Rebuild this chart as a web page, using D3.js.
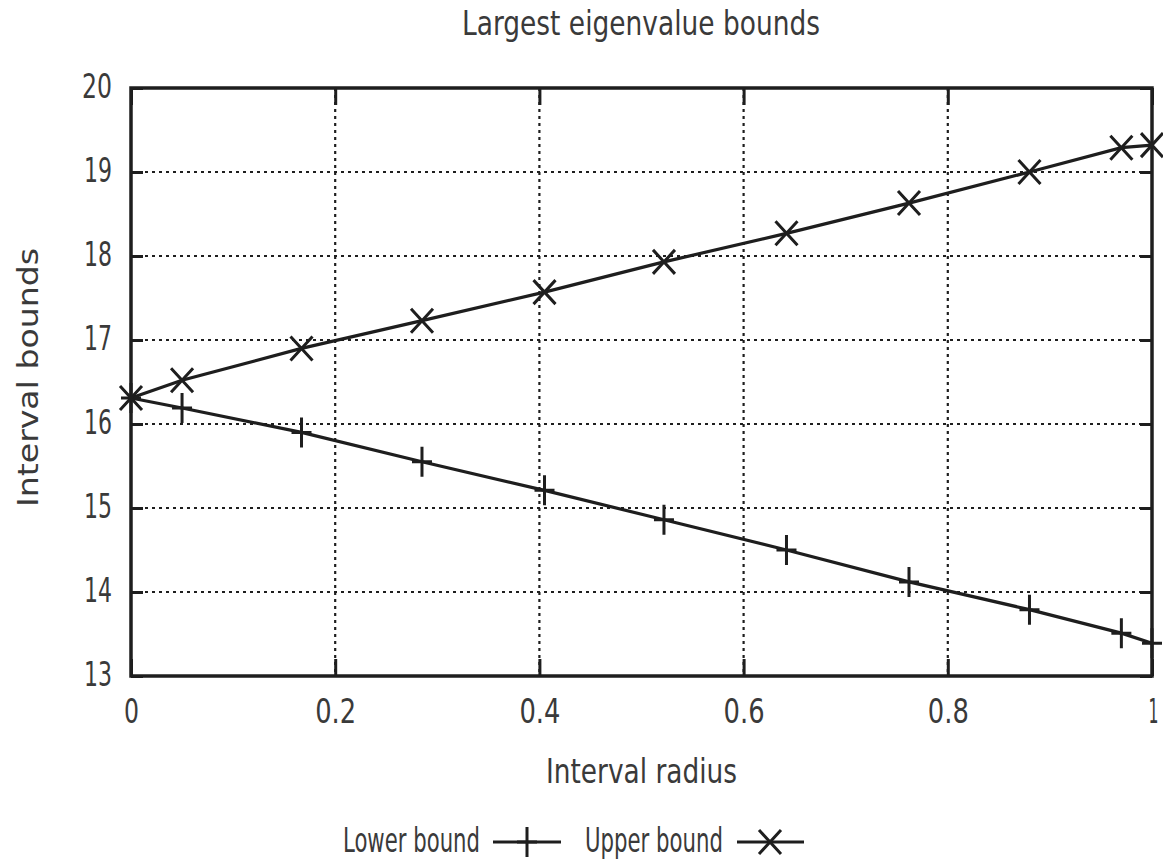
<!DOCTYPE html>
<html><head><meta charset="utf-8">
<script src="https://cdn.jsdelivr.net/npm/d3@7"></script>
<style>body{margin:0;background:#fff}svg text{font-family:"DejaVu Sans Condensed","DejaVu Sans",sans-serif;fill:#3a3a3a}</style>
</head><body><svg id="c" width="1163" height="860"></svg>
<script>
const radius = [0, 0.05, 0.167, 0.285, 0.405, 0.522, 0.642, 0.762, 0.88, 0.97, 1.0];
const lowerBound = [16.31, 16.19, 15.9, 15.55, 15.21, 14.86, 14.5, 14.12, 13.79, 13.51, 13.39];
const upperBound = [16.31, 16.52, 16.9, 17.23, 17.57, 17.93, 18.27, 18.63, 19.0, 19.29, 19.32];
const xTicks = [0, 0.2, 0.4, 0.6, 0.8, 1];
const yTicks = [13, 14, 15, 16, 17, 18, 19, 20];
const title = "Largest eigenvalue bounds";
const xLabel = "Interval radius";
const yLabel = "Interval bounds";
const seriesNames = ["Lower bound", "Upper bound"];

const svg = d3.select("#c");
const L = 131, R = 1152, T = 88, B = 676;
const x = d3.scaleLinear().domain([0, 1]).range([L, R]);
const y = d3.scaleLinear().domain([13, 20]).range([B, T]);
const ink = "#1e1e1e";
const FS = 33;
// width of a label in the narrow reference face
const labelWidth = s => s.split("").reduce((w, ch) => w + (ch === "." ? 11 : ch === "1" ? 13 : 15), 0);

// grid
svg.append("g").selectAll("line").data(xTicks.filter(d => d > 0 && d < 1)).join("line")
  .attr("x1", d => x(d)).attr("x2", d => x(d)).attr("y1", T).attr("y2", B)
  .attr("stroke", ink).attr("stroke-width", 2.2).attr("stroke-dasharray", "3,4");
svg.append("g").selectAll("line").data(yTicks.filter(d => d > 13 && d < 20)).join("line")
  .attr("x1", L).attr("x2", R).attr("y1", d => y(d)).attr("y2", d => y(d))
  .attr("stroke", ink).attr("stroke-width", 2.2).attr("stroke-dasharray", "3,4");

// axes with inward ticks
const fmt = d => d3.format("~g")(d);
const ax = svg.append("g").attr("transform", `translate(0,${B})`)
  .call(d3.axisBottom(x).tickValues(xTicks).tickSizeInner(-17).tickSizeOuter(0).tickPadding(0).tickFormat(fmt));
const axT = svg.append("g").attr("transform", `translate(0,${T})`)
  .call(d3.axisTop(x).tickValues(xTicks).tickSizeInner(-17).tickSizeOuter(0).tickFormat(""));
const ay = svg.append("g").attr("transform", `translate(${L},0)`)
  .call(d3.axisLeft(y).tickValues(yTicks).tickSizeInner(-12).tickSizeOuter(0).tickPadding(19).tickFormat(fmt));
const ayR = svg.append("g").attr("transform", `translate(${R},0)`)
  .call(d3.axisRight(y).tickValues(yTicks).tickSizeInner(-12).tickSizeOuter(0).tickFormat(""));
[ax, axT, ay, ayR].forEach(g => {
  g.select(".domain").remove();
  g.selectAll(".tick line").attr("stroke", ink).attr("stroke-width", 3);
  g.selectAll(".tick text").attr("font-size", FS).attr("fill", "#3a3a3a")
    .attr("lengthAdjust", "spacingAndGlyphs").attr("textLength", d => labelWidth(fmt(d)));
});
ax.selectAll(".tick text").attr("y", 47).attr("dy", null);
ax.selectAll(".tick text").filter(d => d === 1).attr("x", 1).attr("textLength", 10);
ay.selectAll(".tick text").attr("dy", null).attr("y", 9);
svg.append("rect").attr("x", L).attr("y", T).attr("width", R - L).attr("height", B - T)
  .attr("fill", "none").attr("stroke", ink).attr("stroke-width", 3.5);

// lines
const line = d3.line().x((d, i) => x(radius[i])).y(d => y(d));
[lowerBound, upperBound].forEach(s => {
  svg.append("path").attr("d", line(s)).attr("fill", "none").attr("stroke", ink).attr("stroke-width", 3.2);
});

function plus(g, cx, cy) {
  g.append("path").attr("d", `M${cx - 10},${cy}H${cx + 10}M${cx},${cy - 15}V${cy + 15}`)
    .attr("stroke", ink).attr("stroke-width", 3).attr("fill", "none");
}
function cross(g, cx, cy) {
  g.append("path").attr("d", `M${cx - 11},${cy - 12}L${cx + 11},${cy + 12}M${cx - 11},${cy + 12}L${cx + 11},${cy - 12}`)
    .attr("stroke", ink).attr("stroke-width", 3).attr("fill", "none");
}
const mk = svg.append("g");
lowerBound.forEach((v, i) => plus(mk, x(radius[i]), y(v)));
upperBound.forEach((v, i) => cross(mk, x(radius[i]), y(v)));

function label(txt, px, py, w, anchor, rot, fs) {
  const t = svg.append("text").attr("font-size", fs || FS).attr("text-anchor", anchor || "middle")
    .attr("lengthAdjust", "spacingAndGlyphs").attr("textLength", w).text(txt);
  if (rot) t.attr("transform", `translate(${px},${py}) rotate(${rot})`);
  else t.attr("x", px).attr("y", py);
  return t;
}
label(title, 641, 35, 358);
label(xLabel, 641.5, 783, 191);
label(yLabel, 38, 377.5, 259, "middle", -90, 28).attr("fill", "#555");

// legend
label(seriesNames[0], 343, 852, 137, "start");
svg.append("line").attr("x1", 493).attr("x2", 561).attr("y1", 842).attr("y2", 842).attr("stroke", ink).attr("stroke-width", 3);
plus(svg, 527, 842);
label(seriesNames[1], 585, 852, 138, "start");
svg.append("line").attr("x1", 737).attr("x2", 804).attr("y1", 842).attr("y2", 842).attr("stroke", ink).attr("stroke-width", 3);
cross(svg, 770, 842);
</script></body></html>
